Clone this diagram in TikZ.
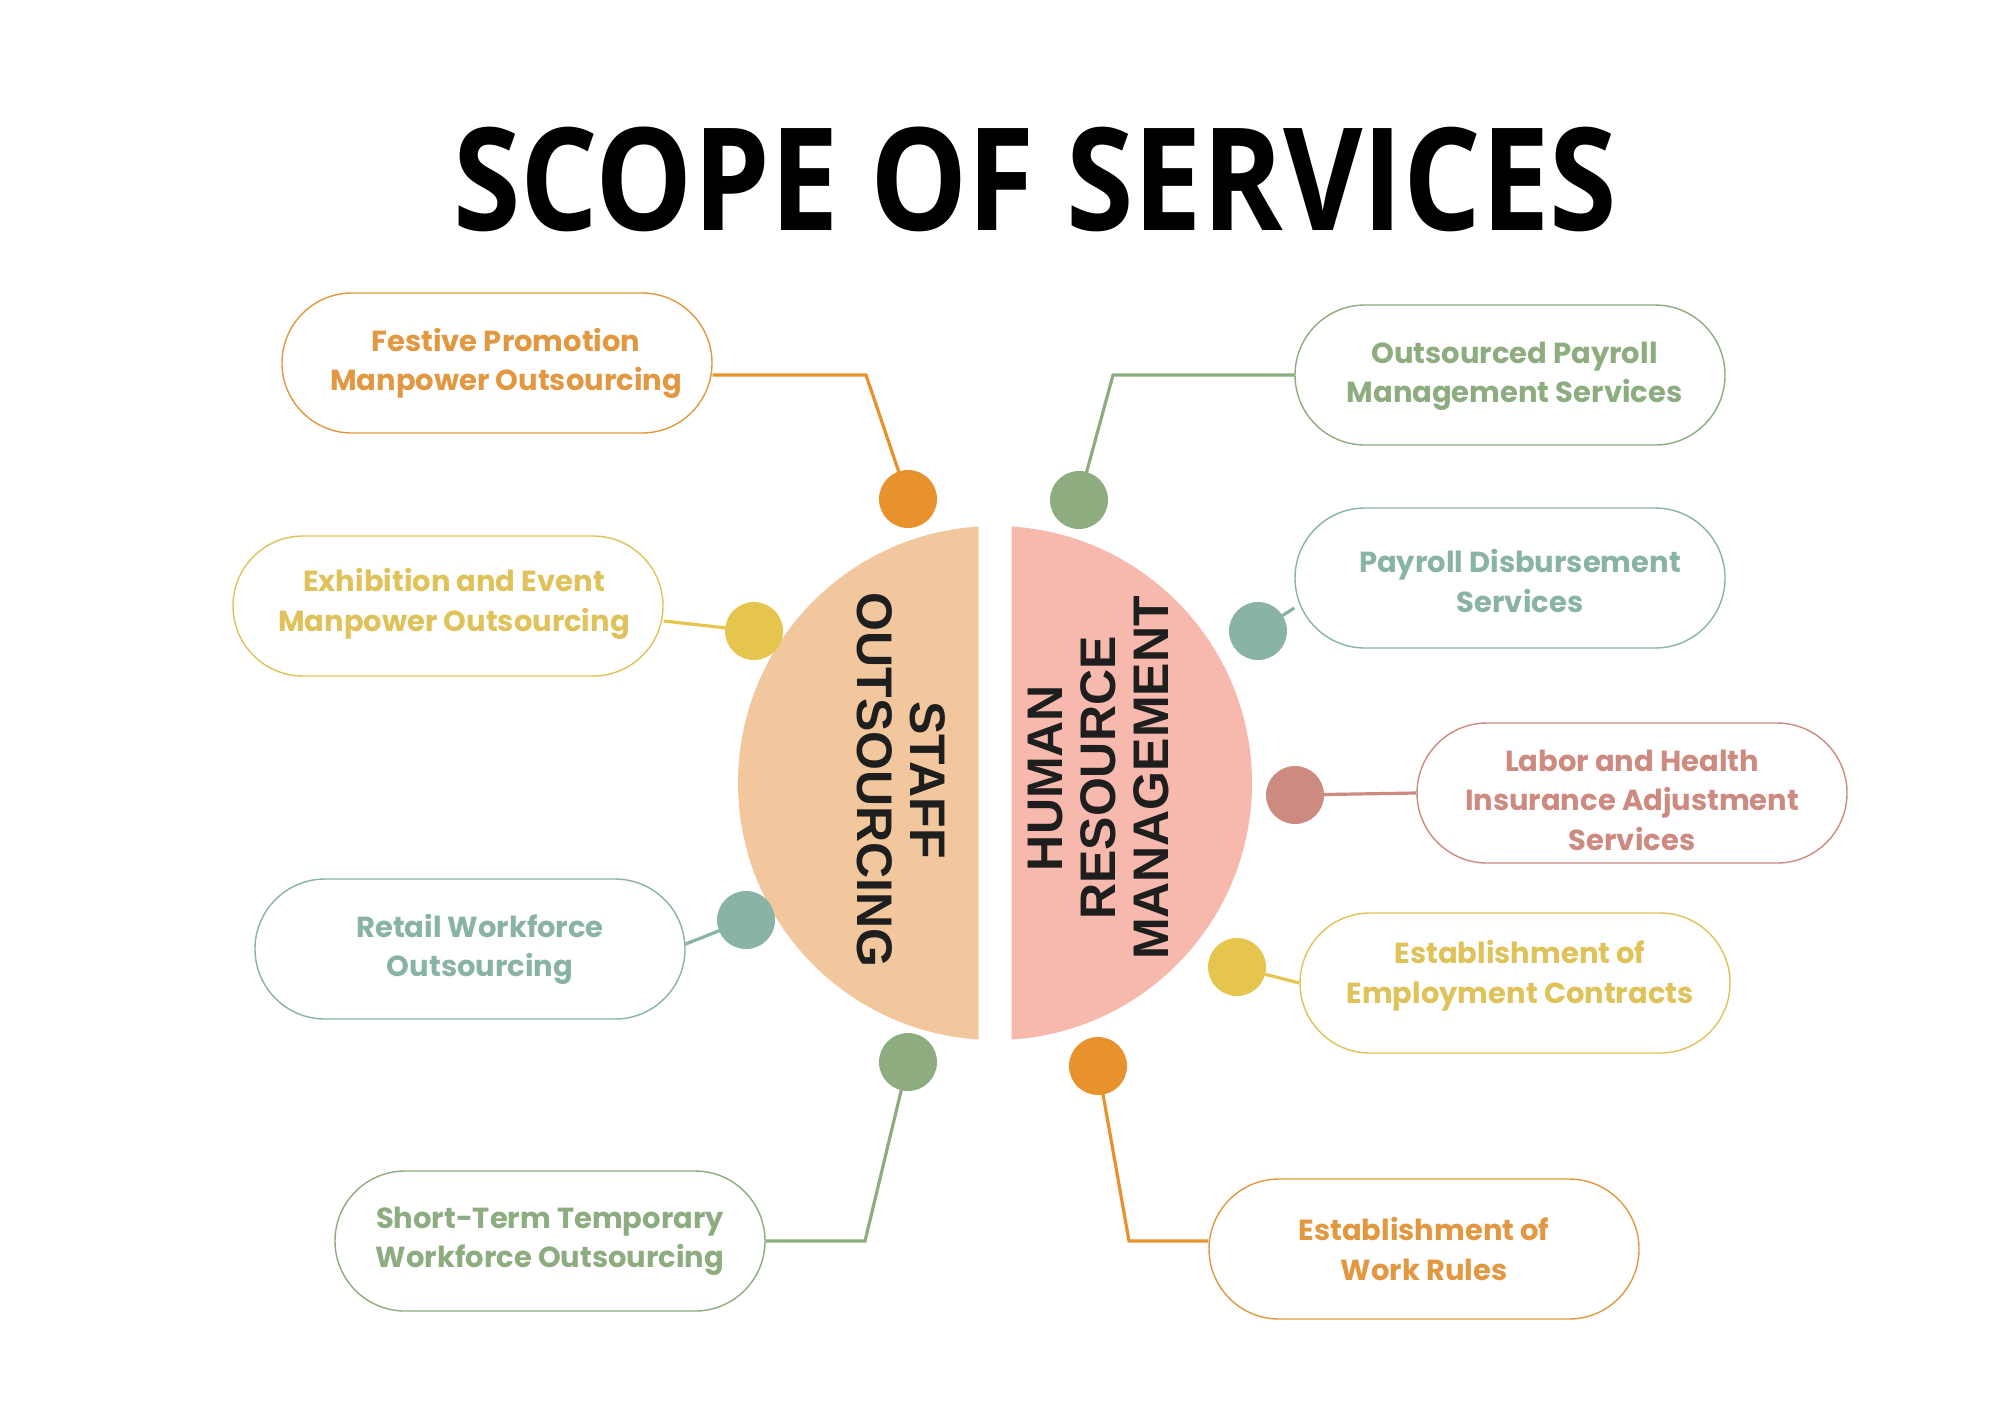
\documentclass[tikz,border=0pt]{standalone}
\usepackage{fontspec}
\usepackage{graphicx}
\setmainfont{Poppins}
\newfontfamily\titlefont{Open Sans}
\newfontfamily\circfont{Liberation Sans}
\usetikzlibrary{shapes.misc,backgrounds}
\definecolor{cOrange}{HTML}{E8922E}
\definecolor{tOrange}{HTML}{E29840}
\definecolor{cYellow}{HTML}{E6C54F}
\definecolor{tYellow}{HTML}{DFC25A}
\definecolor{cTeal}{HTML}{88B3A6}
\definecolor{cGreen}{HTML}{8DAC80}
\definecolor{cRose}{HTML}{CC8A80}
\definecolor{cPeach}{HTML}{F2C79E}
\definecolor{cPink}{HTML}{F7B9AE}
\definecolor{cDark}{HTML}{1E1E1E}
\newcommand{\shiftedlines}[3]{\hspace*{#1}\raisebox{#2}[\height][\depth]{\begin{tabular}{@{}c@{}}#3\end{tabular}}}
\tikzset{
  svcbox/.style={rounded rectangle, draw=#1, text=#1, line width=0.7pt, fill=white,
    minimum width=215pt, minimum height=70pt, align=center, inner sep=0pt,
    font=\bfseries\fontsize{14.5}{19.75}\selectfont},
  dotnode/.style={circle, fill=#1, minimum size=29pt, inner sep=0pt},
  link/.style={draw=#1, line width=1.6pt},
  circlabel/.style={align=center, text=cDark, inner sep=0pt,
    font=\circfont\bfseries\fontsize{25}{26.5}\selectfont}
}
\begin{document}
\begin{tikzpicture}[x=0.5pt,y=-0.5pt]
\useasboundingbox (0,0) rectangle (2000,1414);
\begin{pgfonlayer}{background}
\fill[white] (0,0) rectangle (2000,1414);
\end{pgfonlayer}

% title
\node[anchor=base, inner sep=0pt] (title) at (1035,230)
  {\resizebox{582pt}{\height}{\titlefont\bfseries\fontsize{71.4}{72}\selectfont SCOPE OF SERVICES}};

% central halves
\begin{scope}
\clip (0,0) rectangle (978.5,1414);
\fill[cPeach] (995,783) circle[radius=128.5pt];
\end{scope}
\begin{scope}
\clip (1011.5,0) rectangle (2000,1414);
\fill[cPink] (995,783) circle[radius=128.5pt];
\end{scope}
\node[circlabel, rotate=-90] (staff) at (901,780) {STAFF\\OUTSOURCING};
\node[circlabel, rotate=90] (hrm) at (1099,778) {HUMAN\\RESOURCE\\MANAGEMENT};

% boxes
\node[svcbox=tOrange] (b1) at (497,363) {\shiftedlines{9pt}{0pt}{Festive Promotion\\Manpower Outsourcing}};
\node[svcbox=tYellow] (b2) at (448,606) {\shiftedlines{6pt}{1.3pt}{Exhibition and Event\\Manpower Outsourcing}};
\node[svcbox=cTeal] (b3) at (470,949) {\shiftedlines{10pt}{0pt}{Retail Workforce\\Outsourcing}};
\node[svcbox=cGreen] (b4) at (550,1241) {Short-Term Temporary\\Workforce Outsourcing};
\node[svcbox=cGreen] (b5) at (1510,375) {\shiftedlines{4.5pt}{0pt}{Outsourced Payroll\\Management Services}};
\node[svcbox=cTeal] (b6) at (1510,578) {\shiftedlines{10pt}{-3.2pt}{Payroll Disbursement\\Services}};
\node[svcbox=cRose] (b7) at (1632,793) {\shiftedlines{0pt}{-5pt}{Labor and Health\\Insurance Adjustment\\Services}};
\node[svcbox=tYellow] (b8) at (1515,983) {\shiftedlines{5pt}{3.8pt}{Establishment of\\Employment Contracts}};
\node[svcbox=tOrange] (b9) at (1424,1249) {Establishment of\\Work Rules};

% dots
\node[dotnode=cOrange] (d1) at (908,499) {};
\node[dotnode=cYellow] (d2) at (754,631) {};
\node[dotnode=cTeal] (d3) at (746,920) {};
\node[dotnode=cGreen] (d4) at (908,1062) {};
\node[dotnode=cGreen] (d5) at (1079,500) {};
\node[dotnode=cTeal] (d6) at (1258,631) {};
\node[dotnode=cRose] (d7) at (1295,795) {};
\node[dotnode=cYellow] (d8) at (1237,967) {};
\node[dotnode=cOrange] (d9) at (1098,1066) {};

\coordinate (e1) at (866,375);
\coordinate (e4) at (865,1241);
\coordinate (e5) at (1113,375);
\coordinate (e9) at (1129,1241);

\begin{pgfonlayer}{background}
\draw[link=cOrange] ([yshift=-6pt]b1.east) -- (e1) -- (d1.center);
\draw[link=cYellow] ([yshift=-7.5pt]b2.east) -- (d2.center);
\draw[link=cTeal] ([yshift=2.5pt]b3.east) -- (d3.center);
\draw[link=cGreen] (b4.east) -- (e4) -- (d4.center);
\draw[link=cGreen] (b5.west) -- (e5) -- (d5.center);
\draw[link=cTeal] (d6.center) -- ([yshift=-15pt]b6.west);
\draw[link=cRose] (d7.center) -- (b7.west);
\draw[link=cYellow] (d8.center) -- (b8.west);
\draw[link=cOrange] (d9.center) -- (e9) -- ([yshift=4pt]b9.west);
\end{pgfonlayer}
\end{tikzpicture}
\end{document}
